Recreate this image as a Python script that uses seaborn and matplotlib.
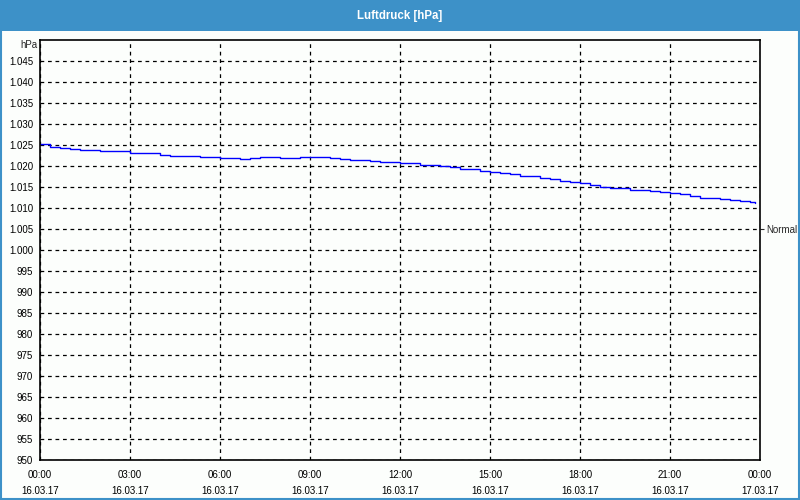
import matplotlib
matplotlib.use("Agg")
import matplotlib.pyplot as plt
import seaborn as sns
import pandas as pd
import numpy as np
from matplotlib.ticker import FuncFormatter, MultipleLocator
from matplotlib.patches import Rectangle

# ---------------- data ----------------
hours = [0.0, 0.333, 0.667, 1.0, 1.333, 1.667, 2.0, 2.333, 2.667, 3.0, 3.333, 3.667,
         4.0, 4.333, 4.667, 5.0, 5.333, 5.667, 6.0, 6.333, 6.667, 7.0, 7.333, 7.667,
         8.0, 8.333, 8.667, 9.0, 9.333, 9.667, 10.0, 10.333, 10.667, 11.0, 11.333, 11.667,
         12.0, 12.333, 12.667, 13.0, 13.333, 13.667, 14.0, 14.333, 14.667, 15.0, 15.333, 15.667,
         16.0, 16.333, 16.667, 17.0, 17.333, 17.667, 18.0, 18.333, 18.667, 19.0, 19.333, 19.667,
         20.0, 20.333, 20.667, 21.0, 21.333, 21.667, 22.0, 22.333, 22.667, 23.0, 23.333, 23.667, 23.833]
pressure = [1025.2, 1024.6, 1024.2, 1024.0, 1023.9, 1023.8, 1023.6, 1023.6, 1023.5, 1023.1, 1023.0, 1023.0,
            1022.6, 1022.5, 1022.5, 1022.3, 1022.1, 1022.1, 1022.0, 1021.8, 1021.7, 1022.0, 1022.1, 1022.1,
            1021.9, 1021.8, 1022.1, 1022.1, 1022.1, 1022.0, 1021.6, 1021.5, 1021.5, 1021.3, 1021.0, 1020.9,
            1020.8, 1020.6, 1020.2, 1020.2, 1019.9, 1019.7, 1019.4, 1019.2, 1018.9, 1018.6, 1018.3, 1018.0,
            1017.7, 1017.6, 1017.2, 1017.0, 1016.5, 1016.3, 1016.0, 1015.5, 1015.1, 1014.8, 1014.7, 1014.4,
            1014.2, 1014.0, 1013.7, 1013.5, 1013.3, 1012.9, 1012.5, 1012.3, 1012.1, 1011.8, 1011.7, 1011.5, 1011.2]

x_tick_hours = [0, 3, 6, 9, 12, 15, 18, 21, 24]
x_tick_times = ["00:00", "03:00", "06:00", "09:00", "12:00", "15:00", "18:00", "21:00", "00:00"]
x_tick_dates = ["16.03.17", "16.03.17", "16.03.17", "16.03.17", "16.03.17",
                "16.03.17", "16.03.17", "16.03.17", "17.03.17"]
y_ticks = [950, 955, 960, 965, 970, 975, 980, 985, 990, 995, 1000,
           1005, 1010, 1015, 1020, 1025, 1030, 1035, 1040, 1045]
normal_value = 1005
title = "Luftdruck [hPa]"
unit_label = "hPa"

df = pd.DataFrame({"h": hours, "p": pressure})

# ---------------- figure ----------------
sns.set_style("white")
plt.rcParams['font.family'] = ['Liberation Sans', 'DejaVu Sans']
bg = "#fcfefc"
bar_col = "#3d91c8"
fs = 7
fig = plt.figure(figsize=(8, 5), dpi=100, facecolor=bg)

# title bar
fig.patches.append(Rectangle((0, 1 - 31 / 500), 1, 31 / 500, transform=fig.transFigure,
                             facecolor=bar_col, edgecolor="none", zorder=0))
fig.text(0.5, 1 - 15.5 / 500, title, ha="center", va="center", color="white",
         fontsize=8.3, fontweight="bold")
# outer border
fig.patches.append(Rectangle((0.75 / 800, 0.75 / 500), 1 - 1.5 / 800, 1 - 1.5 / 500,
                             transform=fig.transFigure, facecolor="none",
                             edgecolor=bar_col, linewidth=1.5, zorder=5))

ax = fig.add_axes([40 / 800, 40 / 500, 720 / 800, 420 / 500])
ax.set_facecolor(bg)
sns.lineplot(data=df, x="h", y="p", ax=ax, color="#0000ff", linewidth=1.0,
             drawstyle="steps-post")

ax.set_xlim(0, 24)
ax.set_ylim(950, 1050)
ax.set_xticks(x_tick_hours)
ax.set_xticklabels([f"{t}\n{d}" for t, d in zip(x_tick_times, x_tick_dates)], linespacing=1.7)
ax.xaxis.set_minor_locator(MultipleLocator(1))
ax.set_yticks(y_ticks)
ax.yaxis.set_major_formatter(FuncFormatter(lambda v, p: f"{int(v):,}".replace(",", ".")))
ax.tick_params(axis="both", which="both", direction="out", colors="black", labelsize=fs, pad=2)
ax.tick_params(axis="x", which="major", length=4, pad=3.5)
ax.tick_params(axis="x", which="minor", length=3)
ax.tick_params(axis="y", which="major", length=3)
ax.set_xlabel("")
ax.set_ylabel("")

ax.grid(True, which="major", color="black", linestyle=(0, (3, 3)), linewidth=0.9)
for s in ax.spines.values():
    s.set_visible(True)
    s.set_color("black")
    s.set_linewidth(1.2)

ax.text(-0.004, 1048.8, unit_label, transform=ax.get_yaxis_transform(), ha="right",
        va="center", fontsize=fs)

sec = ax.secondary_yaxis("right")
sec.set_yticks([normal_value])
sec.set_yticklabels(["Normal"])
sec.tick_params(axis="y", direction="out", length=3, labelsize=fs, pad=1.5)
sec.spines["right"].set_visible(False)

fig.savefig("out.png", dpi=100, facecolor=bg)
